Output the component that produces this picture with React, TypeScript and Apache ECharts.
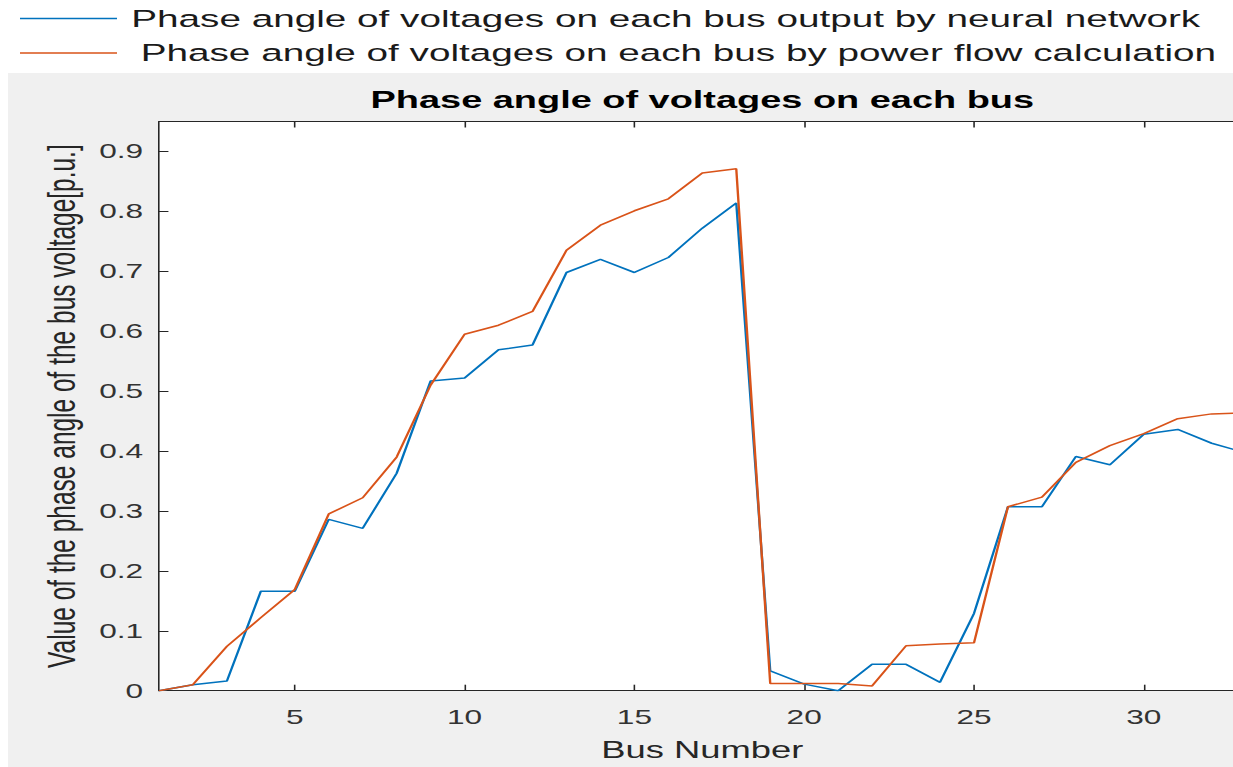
import React, { useEffect, useRef } from "react";
import * as echarts from "echarts";

// ---- Data ----
const buses: number[] = [
  1, 2, 3, 4, 5, 6, 7, 8, 9, 10, 11, 12, 13, 14, 15, 16, 17,
  18, 19, 20, 21, 22, 23, 24, 25, 26, 27, 28, 29, 30, 31, 32, 33,
];

const neuralNetwork: number[] = [
  0, 0.01, 0.016, 0.166, 0.166, 0.286, 0.271, 0.363, 0.517, 0.522, 0.569,
  0.577, 0.698, 0.72, 0.698, 0.723, 0.772, 0.814, 0.033, 0.011, 0, 0.044,
  0.044, 0.014, 0.129, 0.307, 0.307, 0.391, 0.377, 0.428, 0.436, 0.413, 0.397,
];

const powerFlow: number[] = [
  0, 0.01, 0.074, 0.122, 0.169, 0.295, 0.322, 0.39, 0.51, 0.595, 0.61, 0.633,
  0.735, 0.777, 0.801, 0.821, 0.864, 0.871, 0.012, 0.012, 0.012, 0.008, 0.075,
  0.078, 0.08, 0.307, 0.323, 0.381, 0.409, 0.429, 0.454, 0.462, 0.464,
];

const xTickValues: number[] = [5, 10, 15, 20, 25, 30];

const nnName = "Phase angle of voltages on each bus output by neural network";
const pfName = "Phase angle of voltages on each bus by power flow calculation";
const titleText = "Phase angle of voltages on each bus";
const xName = "Bus Number";
const yName = "Value of the phase angle of the bus voltage[p.u.]";

// ---- Layout (logical units; the chart is stretched horizontally) ----
const STRETCH = 1.58;
const LOGICAL_W = 820;
const H = 767;
const FONT = "'Liberation Sans', Arial, Helvetica, sans-serif";

export default function App() {
  const ref = useRef<HTMLDivElement>(null);

  useEffect(() => {
    if (!ref.current) return;
    const chart = echarts.init(ref.current, undefined, { renderer: "svg" });

    const gridLeft = 100.6;
    const gridRight = 31.6;
    const plotCenter = (gridLeft + (LOGICAL_W - gridRight)) / 2;

    const axisColor = "#262626";

    chart.setOption({
      animation: false,
      backgroundColor: "#ffffff",
      graphic: [
        {
          type: "rect",
          z: -10,
          silent: true,
          shape: { x: 8 / STRETCH, y: 73, width: 1000, height: 720 },
          style: { fill: "#f0f0f0" },
        },
      ],
      title: {
        text: titleText,
        left: plotCenter,
        textAlign: "center",
        top: 88,
        padding: 0,
        textStyle: {
          fontFamily: FONT,
          fontSize: 24,
          fontWeight: "bold",
          color: "#000000",
        },
      },
      legend: {
        orient: "vertical",
        left: 20 / STRETCH,
        top: 6,
        padding: 0,
        itemGap: 9.5,
        itemWidth: 97 / STRETCH,
        itemHeight: 1.6,
        icon: "rect",
        textStyle: {
          fontFamily: FONT,
          fontSize: 24.5,
          color: "#1a1a1a",
          padding: [0, 0, 0, 4],
        },
        data: [
          { name: nnName },
          { name: pfName, textStyle: { padding: [0, 0, 0, 10] } },
        ],
      },
      grid: {
        left: gridLeft,
        right: gridRight,
        top: 121.5,
        bottom: 76.3,
        show: true,
        backgroundColor: "#ffffff",
        borderWidth: 0,
      },
      xAxis: [
        {
          type: "value",
          min: 1,
          max: 33,
          position: "bottom",
          axisLine: { show: true, onZero: false, lineStyle: { color: axisColor, width: 1 } },
          axisTick: {
            show: true,
            inside: true,
            length: 6,
            customValues: xTickValues,
            lineStyle: { color: axisColor },
          },
          axisLabel: {
            customValues: xTickValues,
            margin: 16,
            fontSize: 20,
            fontFamily: FONT,
            color: "#333333",
          },
          splitLine: { show: false },
          name: xName,
          nameLocation: "middle",
          nameGap: 47,
          nameTextStyle: { fontFamily: FONT, fontSize: 23, color: "#262626" },
        },
        {
          type: "value",
          min: 1,
          max: 33,
          position: "top",
          axisLine: { show: true, onZero: false, lineStyle: { color: axisColor, width: 1 } },
          axisTick: {
            show: true,
            inside: true,
            length: 6,
            customValues: xTickValues,
            lineStyle: { color: axisColor },
          },
          axisLabel: { show: false },
          splitLine: { show: false },
        },
      ],
      yAxis: [
        {
          type: "value",
          min: 0,
          max: 0.95,
          interval: 0.1,
          axisLine: { show: true, onZero: false, lineStyle: { color: axisColor, width: 1 } },
          axisTick: { show: true, inside: true, length: 6, lineStyle: { color: axisColor } },
          axisLabel: {
            showMaxLabel: false,
            margin: 10,
            fontSize: 20,
            fontFamily: FONT,
            color: "#333333",
          },
          splitLine: { show: false },
          name: yName,
          nameLocation: "middle",
          nameRotate: 90,
          nameGap: 45,
          nameTextStyle: { fontFamily: FONT, fontSize: 24.5, color: "#262626" },
        },
      ],
      series: [
        {
          type: "line",
          name: nnName,
          xAxisIndex: 0,
          yAxisIndex: 0,
          data: buses.map((b, i) => [b, neuralNetwork[i]]),
          symbol: "none",
          color: "#0072BD",
          lineStyle: { width: 1.5, color: "#0072BD" },
          clip: true,
        },
        {
          type: "line",
          name: pfName,
          xAxisIndex: 0,
          yAxisIndex: 0,
          data: buses.map((b, i) => [b, powerFlow[i]]),
          symbol: "none",
          color: "#D95319",
          lineStyle: { width: 1.5, color: "#D95319" },
          clip: true,
        },
      ],
    });

    return () => {
      chart.dispose();
    };
  }, []);

  return (
    <div
      style={{
        position: "absolute",
        left: 0,
        top: 0,
        width: 1233,
        height: H,
        overflow: "hidden",
        background: "#ffffff",
      }}
    >
      <div
        ref={ref}
        style={{
          width: LOGICAL_W,
          height: H,
          transform: `scaleX(${STRETCH})`,
          transformOrigin: "0 0",
        }}
      />
    </div>
  );
}
